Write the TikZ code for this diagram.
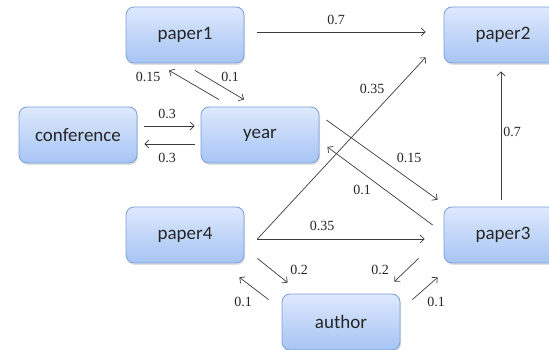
\documentclass[tikz,border=0pt]{standalone}
\usepackage{fontspec}
\setmainfont{Liberation Serif}
\newfontfamily\boxfont{Carlito}
\usetikzlibrary{arrows.meta,shadows}
\definecolor{boxtop}{RGB}{222,233,252}
\definecolor{boxbottom}{RGB}{166,196,245}
\definecolor{boxline}{RGB}{122,158,216}
\definecolor{edgegray}{RGB}{60,60,60}
\tikzset{box/.style={draw=boxline,line width=.8pt,rounded corners=8pt,top color=boxtop,bottom color=boxbottom,minimum width=118pt,minimum height=56pt,font=\boxfont\fontsize{19}{23}\selectfont,text=black!85,drop shadow={shadow xshift=1pt,shadow yshift=-2pt,opacity=.25}},lbl/.style={font=\fontsize{14}{16}\selectfont,text=black!85,inner sep=1pt},edge/.style={-{Straight Barb[length=4pt,width=8pt]},edgegray,line width=.7pt}}

\begin{document}
\begin{tikzpicture}[x=1pt,y=1pt]
\useasboundingbox (0,0) rectangle (549,350);
\node[box] (paper1) at (185,315) {paper1};
\node[box] (paper2) at (503,315) {paper2};
\node[box] (conference) at (78,215) {conference};
\node[box] (year) at (260,215) {year};
\node[box] (paper4) at (185,115) {paper4};
\node[box] (paper3) at (503,115) {paper3};
\node[box] (author) at (341,28) {author};
% weights
\node[lbl] (w12) at (336,330) {0.7};
\node[lbl] (wy1) at (148,273) {0.15};
\node[lbl] (w1y) at (230,273) {0.1};
\node[lbl] (wcy) at (167,236) {0.3};
\node[lbl] (wyc) at (167,192) {0.3};
\node[lbl] (w42) at (372,261) {0.35};
\node[lbl] (wy3) at (409,192) {0.15};
\node[lbl] (w3y) at (362,160) {0.1};
\node[lbl] (w32) at (512,218) {0.7};
\node[lbl] (w43) at (322,124) {0.35};
\node[lbl] (w4a) at (299,80) {0.2};
\node[lbl] (wa4) at (243,48) {0.1};
\node[lbl] (w3a) at (380,80) {0.2};
\node[lbl] (wa3) at (436,48) {0.1};
% edges
\draw[edge] ([shift={(13,3)}]paper1.east)--([shift={(-18,3)}]paper2.west);
\draw[edge] ([shift={(-41,7)}]year.north)--([shift={(-16,-7)}]paper1.south);
\draw[edge] ([shift={(10,-7)}]paper1.south)--([shift={(-16,7)}]year.north);
\draw[edge] ([shift={(7,9)}]conference.east)--([shift={(-6,9)}]year.west);
\draw[edge] ([shift={(-6,-9)}]year.west)--([shift={(7,-9)}]conference.east);
\draw[edge] ([shift={(7,15)}]year.east)--([shift={(-6,7)}]paper3.north west);
\draw[edge] ([shift={(-11,10)}]paper3.west)--([shift={(8,-12)}]year.east);
\draw[edge] ([shift={(13,-4)}]paper4.east)--([shift={(-18,6)}]paper2.south west);
\draw[edge] ([shift={(13,-4)}]paper4.east)--([shift={(-19,-4)}]paper3.west);
\draw[edge] ([shift={(-2,7)}]paper3.north)--([shift={(-2,-8)}]paper2.south);
\draw[edge] ([shift={(13,5)}]paper4.south east)--([shift={(6,11)}]author.north west);
\draw[edge] ([shift={(-13,-6)}]author.north west)--([shift={(-5,-14)}]paper4.south east);
\draw[edge] ([shift={(-25,5)}]paper3.south west)--([shift={(-6,12)}]author.north east);
\draw[edge] ([shift={(12,-6)}]author.north east)--([shift={(-6,-14)}]paper3.south west);
\end{tikzpicture}
\end{document}
